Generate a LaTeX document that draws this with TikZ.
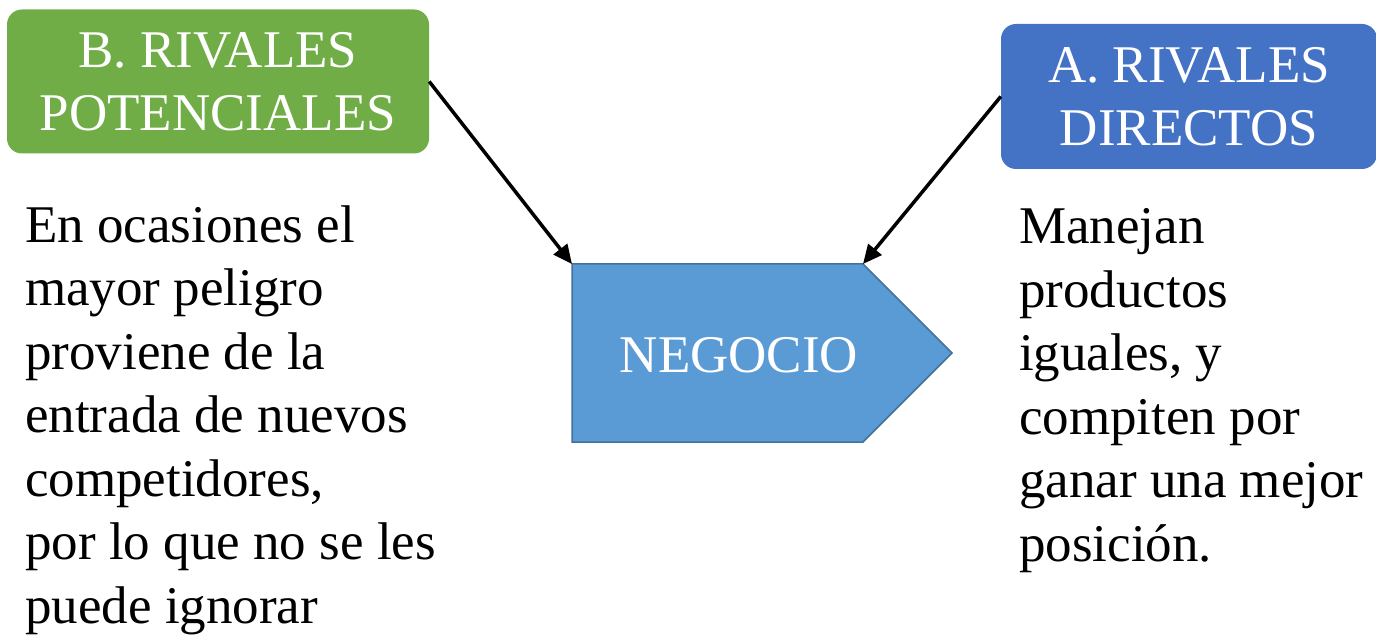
\documentclass[tikz,border=0pt]{standalone}
\usepackage{fontspec}
\setmainfont{Liberation Serif}
\usetikzlibrary{arrows.meta}
\definecolor{boxgreen}{HTML}{70AD47}
\definecolor{boxblue}{HTML}{4472C4}
\definecolor{negfill}{HTML}{5B9BD5}
\definecolor{negline}{HTML}{41719C}
\begin{document}
\begin{tikzpicture}[x=1pt,y=-1pt,
  big/.style={font=\fontsize{53}{63.5}\selectfont},
  titlebox/.style={big, text=white, rounded corners=15pt, align=center, inner sep=0pt},
  % multi-line text: the base anchor sits on the last line
  desc/.style={big, align=left, anchor=base west, inner sep=0pt},
  arr/.style={line width=3.5pt, -{Triangle[length=19pt,width=17pt]}}]
\useasboundingbox (0,0) rectangle (1376,636);

% title boxes
\node[titlebox, fill=boxgreen, minimum width=422pt, minimum height=144pt] (pot) at (218,81.5) {B. RIVALES\\POTENCIALES};
\node[titlebox, fill=boxblue, minimum width=376pt, minimum height=145pt] (dir) at (1189,96.5) {A. RIVALES\\DIRECTOS};

% central pentagon
\coordinate (negNW) at (572,264);
\coordinate (negNE) at (863,264);
\coordinate (negTip) at (952,353);
\coordinate (negSE) at (863,442);
\coordinate (negSW) at (572,442);
\draw[fill=negfill, draw=negline, line width=1.5pt, line join=miter]
  (negNW) -- (negNE) -- (negTip) -- (negSE) -- (negSW) -- cycle;
\node[big, text=white, anchor=base, inner sep=0pt] (neg) at (739,372) {NEGOCIO};

% connectors
\draw[arr] (pot.east) -- (negNW);
\draw[arr] (dir.west) -- (negNE);

% descriptions
\node[desc] (txtpot) at (25,623) {En ocasiones el\\mayor peligro\\proviene de la\\entrada de nuevos\\competidores,\\por lo que no se les\\puede ignorar};
\node[desc] (txtdir) at (1019,561) {Manejan\\productos\\iguales, y\\compiten por\\ganar una mejor\\posición.};
\end{tikzpicture}
\end{document}
